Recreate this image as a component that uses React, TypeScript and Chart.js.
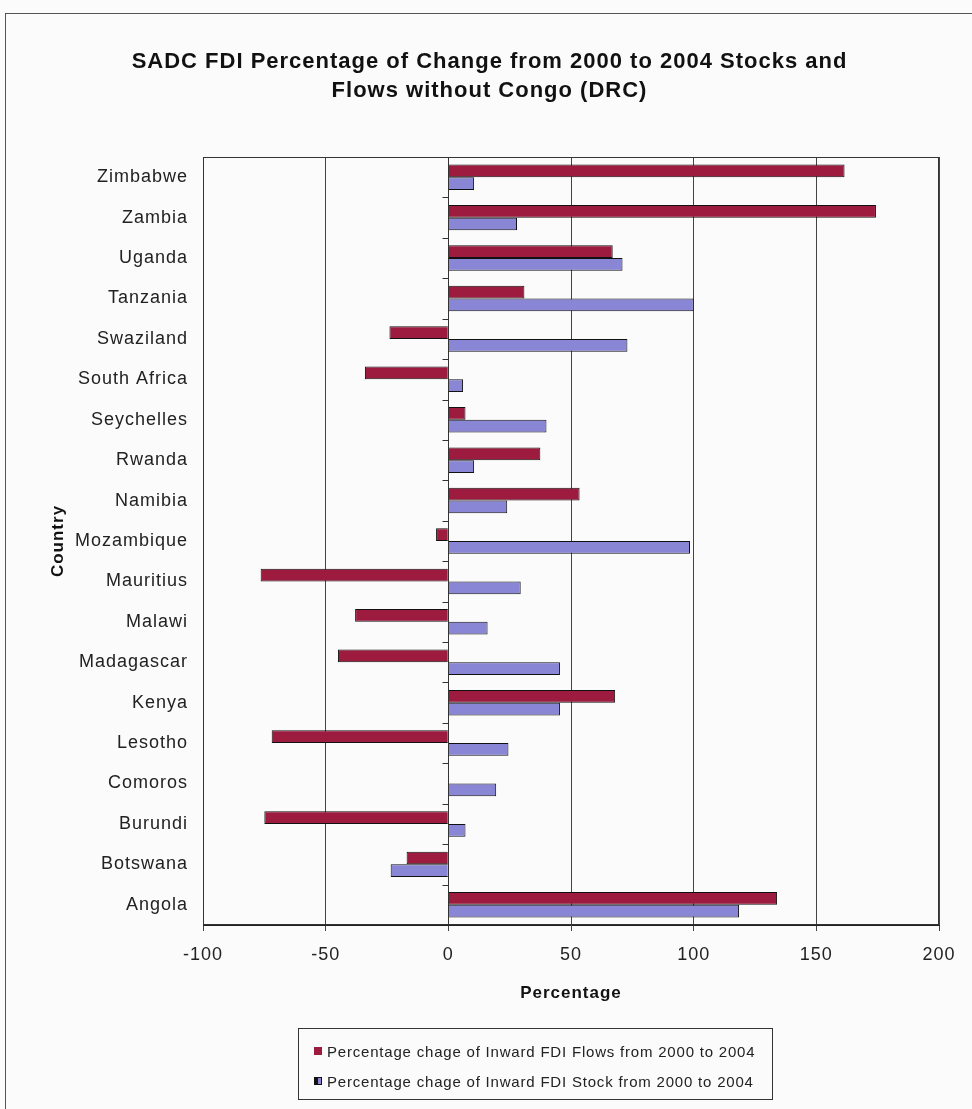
import React, { useEffect, useRef } from "react";
import { Chart, registerables } from "chart.js";

Chart.register(...registerables);

const titleLines = [
  "SADC FDI Percentage of Change from 2000 to 2004 Stocks and",
  "Flows without Congo (DRC)",
];
const countries = [
  "Zimbabwe", "Zambia", "Uganda", "Tanzania", "Swaziland", "South Africa",
  "Seychelles", "Rwanda", "Namibia", "Mozambique", "Mauritius", "Malawi",
  "Madagascar", "Kenya", "Lesotho", "Comoros", "Burundi", "Botswana", "Angola",
];
const flowsLabel = "Percentage chage of Inward FDI Flows from 2000 to 2004";
const stockLabel = "Percentage chage of Inward FDI Stock from 2000 to 2004";
const flows = [161.5, 174.3, 67, 31, -24, -34, 7, 37.5, 53.5, -5, -76.5, -38, -45, 68, -72, 0, -75, -17, 134];
const stock = [10.5, 28, 71, 100, 73, 6, 40, 10.5, 24, 98.5, 29.5, 16, 45.5, 45.5, 24.5, 19.5, 7, -23.5, 118.5];
const xMin = -100;
const xMax = 200;
const xStep = 50;

const FLOW_COLOR = "#9c1b3f";
const STOCK_COLOR = "#8a86d6";
const FONT = "'Liberation Sans', Arial, sans-serif";
const SPACING = "1px";

const spacingPlugin = {
  id: "spacing",
  beforeUpdate(chart: any) {
    (chart.ctx as any).letterSpacing = SPACING;
  },
  beforeLayout(chart: any) {
    (chart.ctx as any).letterSpacing = SPACING;
  },
  beforeDraw(chart: any) {
    (chart.ctx as any).letterSpacing = SPACING;
  },
};

const framePlugin = {
  id: "frame",
  afterDatasetsDraw(chart: any) {
    const { ctx, chartArea: a, scales } = chart;
    ctx.save();
    ctx.strokeStyle = "#333";
    ctx.lineWidth = 1;
    ctx.strokeRect(Math.round(a.left) + 0.5, Math.round(a.top) + 0.5, Math.round(a.width) - 1, Math.round(a.height) - 1);
    const x0 = Math.round(scales.x.getPixelForValue(0)) + 0.5;
    const n = chart.data.labels.length;
    const step = a.height / n;
    ctx.beginPath();
    for (let i = 1; i < n; i++) {
      const y = Math.round(a.top + i * step) + 0.5;
      ctx.moveTo(x0 - 6, y);
      ctx.lineTo(x0, y);
    }
    ctx.moveTo(x0, a.top);
    ctx.lineTo(x0, a.bottom);
    ctx.stroke();
    ctx.restore();
  },
};

export default function App() {
  const ref = useRef<HTMLCanvasElement | null>(null);

  useEffect(() => {
    if (!ref.current) return;
    const chart = new Chart(ref.current, {
      type: "bar",
      data: {
        labels: countries,
        datasets: [
          {
            label: flowsLabel,
            data: flows,
            backgroundColor: FLOW_COLOR,
            borderColor: "#111",
            borderWidth: 1,
            categoryPercentage: 0.63,
            barPercentage: 1,
          },
          {
            label: stockLabel,
            data: stock,
            backgroundColor: STOCK_COLOR,
            borderColor: "#111",
            borderWidth: 1,
            categoryPercentage: 0.63,
            barPercentage: 1,
          },
        ],
      },
      options: {
        indexAxis: "y",
        responsive: false,
        animation: false,
        layout: { padding: { left: 40, right: 33, top: 20, bottom: 94 } },
        plugins: {
          legend: { display: false },
          tooltip: { enabled: false },
          title: {
            display: true,
            text: titleLines,
            color: "#111",
            font: { family: FONT, size: 22, weight: "bold", lineHeight: 1.3 },
            padding: { top: 28, bottom: 51.8 },
          },
        },
        scales: {
          x: {
            min: xMin,
            max: xMax,
            afterFit: (s: any) => { s.height = 90; },
            ticks: {
              stepSize: xStep,
              color: "#222",
              font: { family: FONT, size: 18 },
              padding: 13,
            },
            grid: { color: "#444", lineWidth: 1, tickLength: 6, drawTicks: true },
            border: { display: true, color: "#222" },
            title: {
              display: true,
              text: "Percentage",
              color: "#111",
              font: { family: FONT, size: 17, weight: "bold" },
              padding: { top: 4, bottom: 11 },
            },
          },
          y: {
            afterFit: (s: any) => { s.width = 163; },
            grid: { display: false, drawTicks: false },
            border: { display: false },
            ticks: {
              color: "#222",
              font: { family: FONT, size: 18 },
              padding: 15,
            },
            title: {
              display: true,
              text: "Country",
              color: "#111",
              font: { family: FONT, size: 17, weight: "bold" },
              padding: { top: 8, bottom: 4 },
            },
          },
        },
      },
      plugins: [spacingPlugin, framePlugin],
    });
    return () => chart.destroy();
  }, []);

  const legendRow = (color: string, label: string, marker: "fill" | "half") => (
    <div style={{ display: "flex", alignItems: "center", height: 30 }}>
      <span
        style={{
          display: "inline-block",
          width: 8,
          height: 8,
          background: marker === "fill" ? color : `linear-gradient(90deg, #111 50%, ${color} 50%)`,
          border: marker === "fill" ? "none" : "1px solid #111",
          marginRight: 5,
          boxSizing: "border-box",
          flex: "0 0 auto",
        }}
      />
      <span style={{ whiteSpace: "nowrap" }}>{label}</span>
    </div>
  );

  return (
    <div style={{ position: "absolute", left: 0, top: 0, width: 972, height: 1109, background: "#fbfbfb", overflow: "hidden" }}>
      <div style={{ position: "absolute", left: 5, top: 13, width: 980, height: 1120, borderTop: "1px solid #555", borderLeft: "1px solid #555" }} />
      <canvas ref={ref} width={972} height={1109} style={{ position: "absolute", left: 0, top: 0, width: 972, height: 1109 }} />
      <div
        style={{
          position: "absolute",
          left: 298,
          top: 1028,
          width: 475,
          height: 72,
          border: "1px solid #333",
          boxSizing: "border-box",
          padding: "7px 0 0 15px",
          fontFamily: FONT,
          fontSize: 15,
          letterSpacing: "0.8px",
          color: "#222",
        }}
      >
        {legendRow(FLOW_COLOR, flowsLabel, "fill")}
        {legendRow(STOCK_COLOR, stockLabel, "half")}
      </div>
    </div>
  );
}
